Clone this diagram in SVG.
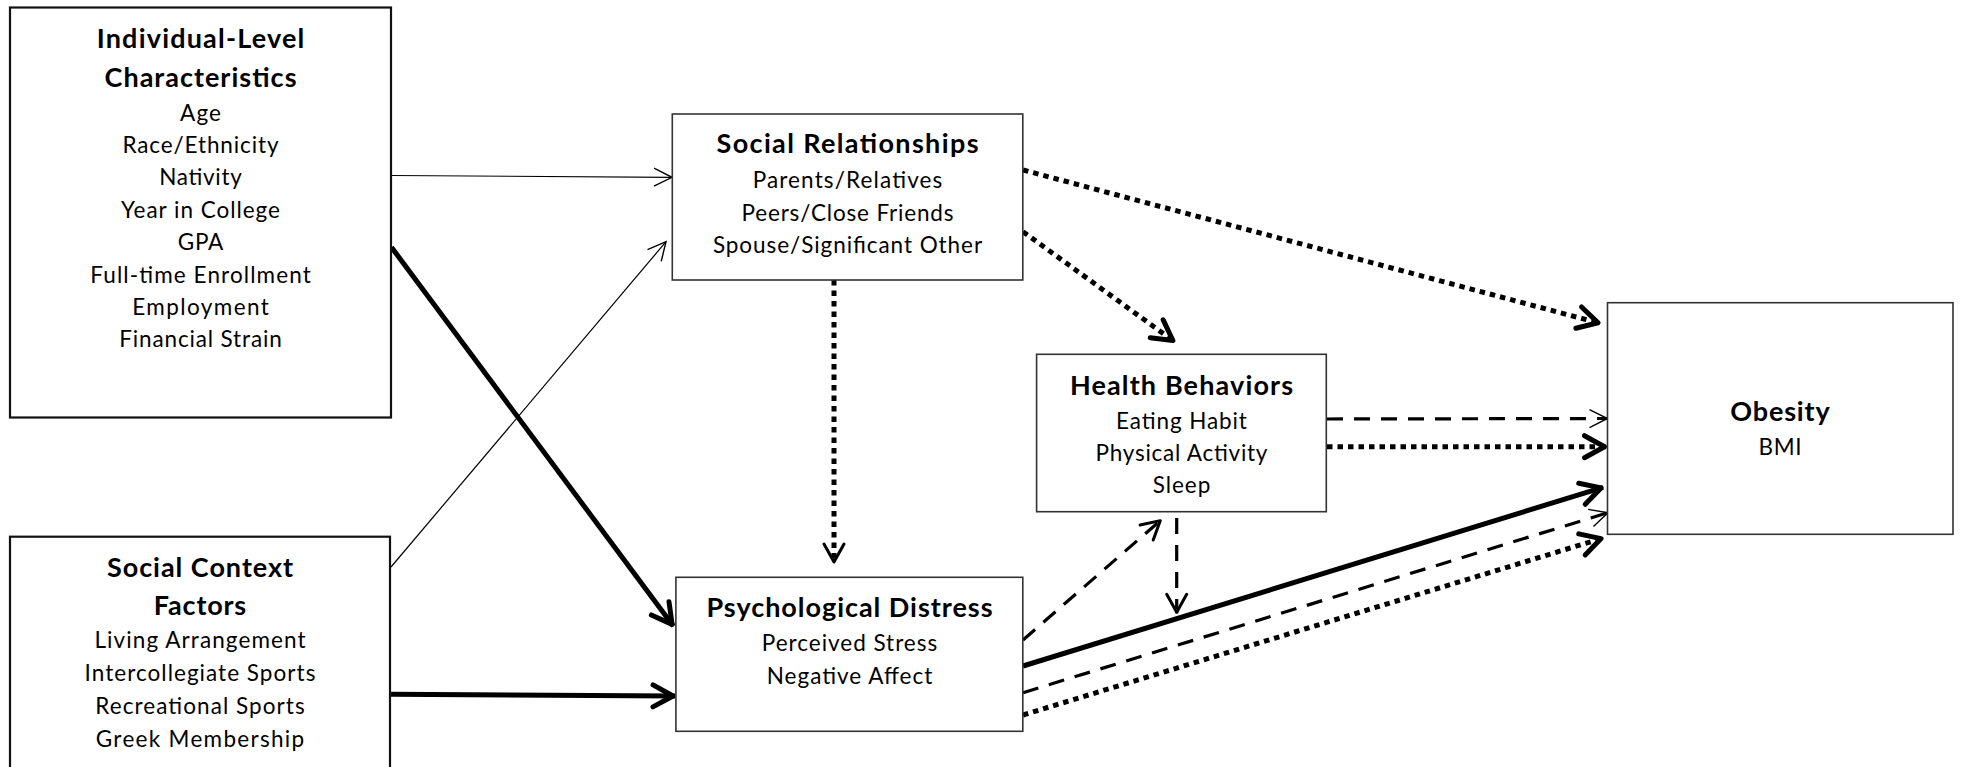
<svg xmlns="http://www.w3.org/2000/svg" width="1963" height="767" viewBox="0 0 1963 767">
<style>
.box{fill:#fff;stroke:#333;stroke-width:1.6}
.boxk{fill:#fff;stroke:#111;stroke-width:2.2}
.t{font-family:Lato,"Liberation Sans",sans-serif;font-size:27px;font-weight:700;text-anchor:middle;fill:#000}
.r{font-family:Lato,"Liberation Sans",sans-serif;font-size:22.5px;font-weight:400;text-anchor:middle;fill:#000}
.ln{fill:none;stroke:#000}
.thin{stroke-width:1.2}
.thick{stroke-width:5}
.dash{stroke-width:3.2;stroke-dasharray:16 11}
.dot{stroke-width:5;stroke-dasharray:5.5 5}
</style>
<defs>
<marker id="aThin" markerUnits="userSpaceOnUse" orient="auto" refX="0" refY="0" markerWidth="1" markerHeight="1" overflow="visible"><path d="M-18,-9 L0,0 L-18,9" fill="none" stroke="#000" stroke-width="1.4"/></marker>
<marker id="aMed" markerUnits="userSpaceOnUse" orient="auto" refX="0" refY="0" markerWidth="1" markerHeight="1" overflow="visible"><path d="M-19,-10 L-1,0 L-19,10" fill="none" stroke="#000" stroke-width="3" stroke-linejoin="round" stroke-linecap="round"/></marker>
<marker id="aThick" markerUnits="userSpaceOnUse" orient="auto" refX="0" refY="0" markerWidth="1" markerHeight="1" overflow="visible"><path d="M-22,-11 L-2,0 L-22,11" fill="none" stroke="#000" stroke-width="5" stroke-linejoin="round" stroke-linecap="round"/></marker>
</defs>
<rect width="1963" height="767" fill="#fff"/>

<g id="connectors">
<path class="ln thin" d="M391,175.5 L672,177.3" marker-end="url(#aThin)"/>
<path class="ln thin" d="M391,567 L666,241.7" marker-end="url(#aThin)"/>
<path class="ln thick" d="M391.5,247.3 L673.3,626" marker-end="url(#aThick)"/>
<path class="ln thick" d="M390.6,694.3 L675,696" marker-end="url(#aThick)"/>
<path class="ln dot" d="M1023,170 L1600,323.3" marker-end="url(#aThick)"/>
<path class="ln dot" d="M1023,231.7 L1174.5,341.7" marker-end="url(#aThick)"/>
<path class="ln dot" d="M834,280 L834,563" marker-end="url(#aMed)"/>
<path class="ln dash" d="M1023,640 L1161,520" marker-end="url(#aMed)"/>
<path class="ln dash" d="M1176.7,518 L1176.7,613.3" marker-end="url(#aMed)"/>
<path class="ln dash" d="M1327,419 L1607.5,418.5" marker-end="url(#aThin)"/>
<path class="ln dot" d="M1327,446.7 L1606.5,446.7" marker-end="url(#aThick)"/>
<path class="ln thick" d="M1023,666 L1603,487.3" marker-end="url(#aThick)"/>
<path class="ln dash" d="M1023,692.7 L1608,512.7" marker-end="url(#aThin)"/>
<path class="ln dot" d="M1023,715 L1603,538" marker-end="url(#aThick)"/>
</g>

<g id="individual">
<rect class="boxk" x="10" y="7.5" width="381" height="410"/>
<text class="t" x="200.5" y="48" textLength="207.6">Individual-Level</text>
<text class="t" x="200.5" y="87" textLength="192">Characteristics</text>
<text class="r" x="200.5" y="120.5" textLength="41">Age</text>
<text class="r" x="200.5" y="152.9" textLength="156.2">Race/Ethnicity</text>
<text class="r" x="200.5" y="185.3" textLength="82.6">Nativity</text>
<text class="r" x="200.5" y="217.7" textLength="158.9">Year in College</text>
<text class="r" x="200.5" y="250.1" textLength="45.5">GPA</text>
<text class="r" x="200.5" y="282.5" textLength="220.5">Full-time Enrollment</text>
<text class="r" x="200.5" y="314.9" textLength="136.6">Employment</text>
<text class="r" x="200.5" y="347.3" textLength="162.5">Financial Strain</text>
</g>

<g id="social-context">
<rect class="boxk" x="10" y="536.7" width="380" height="260"/>
<text class="t" x="200" y="577" textLength="186.2">Social Context</text>
<text class="t" x="200" y="615" textLength="92.4">Factors</text>
<text class="r" x="200" y="648.3" textLength="211.1">Living Arrangement</text>
<text class="r" x="200" y="681" textLength="230.8">Intercollegiate Sports</text>
<text class="r" x="200" y="714" textLength="209.5">Recreational Sports</text>
<text class="r" x="200" y="746.5" textLength="208.4">Greek Membership</text>
</g>

<g id="social-relationships">
<rect class="box" x="672.3" y="114" width="350.5" height="166"/>
<text class="t" x="847.5" y="153.3" textLength="262">Social Relationships</text>
<text class="r" x="847.5" y="188.3" textLength="189.7">Parents/Relatives</text>
<text class="r" x="847.5" y="220.6" textLength="212">Peers/Close Friends</text>
<text class="r" x="847.5" y="253" textLength="269.2">Spouse/Significant Other</text>
</g>

<g id="health-behaviors">
<rect class="box" x="1036.6" y="354.3" width="289.7" height="157.4"/>
<text class="t" x="1181.5" y="395" textLength="223.2">Health Behaviors</text>
<text class="r" x="1181.5" y="428.5" textLength="130.8">Eating Habit</text>
<text class="r" x="1181.5" y="461" textLength="171.9">Physical Activity</text>
<text class="r" x="1181.5" y="493.3" textLength="57.6">Sleep</text>
</g>

<g id="psychological-distress">
<rect class="box" x="675.9" y="577.3" width="346.9" height="154"/>
<text class="t" x="849.5" y="616.7" textLength="286.1">Psychological Distress</text>
<text class="r" x="849.5" y="650.7" textLength="175.4">Perceived Stress</text>
<text class="r" x="849.5" y="684" textLength="165.6">Negative Affect</text>
</g>

<g id="obesity">
<rect class="box" x="1607.5" y="302.7" width="345.5" height="231.6"/>
<text class="t" x="1780" y="421" textLength="99.4">Obesity</text>
<text class="r" x="1780" y="455" textLength="43.1">BMI</text>
</g>
</svg>
